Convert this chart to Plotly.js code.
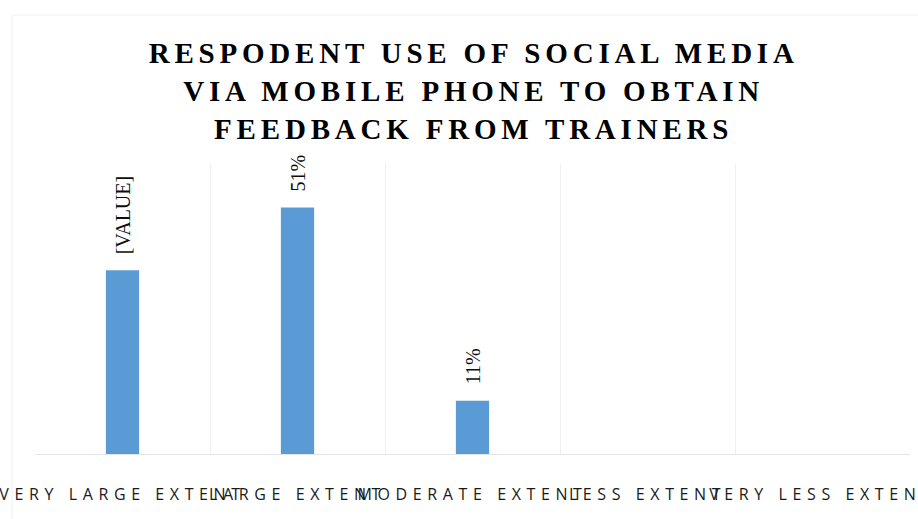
<!DOCTYPE html>
<html>
<head>
<meta charset="utf-8">
<script src="https://cdn.plot.ly/plotly-3.0.1.min.js"></script>
<style>
  html, body { margin: 0; padding: 0; background: #fff; }
  #chart { width: 918px; height: 519px; }
  .xtick text { letter-spacing: 5.6px; }
  .gtitle { letter-spacing: 4.8px; }
</style>
</head>
<body>
<div id="chart"></div>
<script>
// Data
const categories = ["VERY LARGE EXTENT", "LARGE EXTENT", "MODERATE EXTENT", "LESS EXTENT", "VERY LESS EXTENT"];
const values = [38, 51, 11, 0, 0];
const labels = ["[VALUE]", "51%", "11%", "", ""];
const titleText = "RESPODENT USE OF SOCIAL MEDIA<br>VIA MOBILE PHONE TO OBTAIN<br>FEEDBACK FROM TRAINERS";

const trace = {
  type: "bar",
  x: categories,
  y: values,
  marker: { color: "#5B9BD5" },
  hoverinfo: "none"
};

const annotations = categories.map((c, i) => ({
  x: c,
  y: values[i],
  xref: "x",
  yref: "y",
  text: labels[i],
  showarrow: false,
  textangle: -90,
  xanchor: "center",
  yanchor: "bottom",
  yshift: 14,
  font: { family: "Liberation Serif, Times New Roman, serif", size: 20, color: "#0d0d0d" }
})).filter(a => a.text !== "");

const layout = {
  width: 918,
  height: 519,
  margin: { l: 35, r: 8, t: 164, b: 65 },
  paper_bgcolor: "#ffffff",
  plot_bgcolor: "#ffffff",
  showlegend: false,
  bargap: 0.81,
  title: {
    text: titleText,
    x: 0.516,
    xanchor: "center",
    y: 0.878,
    yanchor: "top",
    yref: "container",
    font: { family: "Liberation Serif, Times New Roman, serif", size: 29, color: "#000000", weight: 700 }
  },
  xaxis: {
    type: "category",
    tickson: "boundaries",
    showgrid: true,
    gridcolor: "#efefef",
    gridwidth: 1,
    showline: true,
    linecolor: "#e6e6e6",
    linewidth: 1,
    ticks: "",
    ticklabelstandoff: 26,
    tickfont: { family: "Open Sans, Noto Sans, sans-serif", size: 16, color: "#1a1a1a" },
    tickangle: 0,
    zeroline: false,
    fixedrange: true
  },
  yaxis: {
    range: [0, 60],
    showgrid: false,
    zeroline: false,
    showticklabels: false,
    ticks: "",
    showline: false,
    fixedrange: true
  },
  shapes: [{
    type: "rect",
    xref: "paper", yref: "paper",
    x0: (12 - 35) / 875, x1: (925 - 35) / 875,
    y0: (454 - 530) / 290, y1: (454 - 15) / 290,
    line: { color: "#f0f0f0", width: 1 },
    fillcolor: "rgba(0,0,0,0)",
    layer: "below"
  }],
  annotations: annotations
};

Plotly.newPlot("chart", [trace], layout, { displayModeBar: false, staticPlot: true });
</script>
</body>
</html>
